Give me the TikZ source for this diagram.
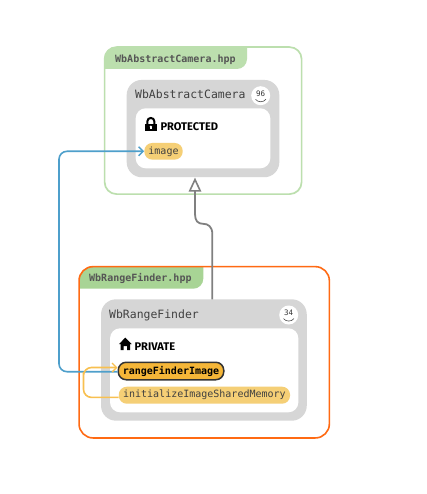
\documentclass[tikz,border=0pt]{standalone}
\usepackage{fontspec}
\setmainfont{Fira Sans}
\setmonofont{DejaVu Sans Mono}
\usetikzlibrary{arrows.meta}
\definecolor{tabpale}{HTML}{BCDFAE}
\definecolor{tabgreen}{HTML}{A8D495}
\definecolor{edgeorange}{HTML}{FF6A13}
\definecolor{classgrey}{HTML}{D6D6D6}
\definecolor{pillpale}{HTML}{F5CF76}
\definecolor{pillstrong}{HTML}{F5B638}
\definecolor{linkblue}{HTML}{4E9FCB}
\definecolor{linkorange}{HTML}{F8C050}
\definecolor{inkgrey}{HTML}{555555}
\tikzset{
  filebox/.style={rectangle,rounded corners=12pt,fill=white,line width=1.7pt,inner sep=0pt},
  classbox/.style={rectangle,rounded corners=15pt,fill=classgrey,inner sep=0pt},
  innerbox/.style={rectangle,rounded corners=10pt,fill=white,inner sep=0pt},
  pill/.style={rectangle,rounded corners=7pt,inner sep=0pt,font=\ttfamily\fontsize{10}{12}\selectfont,text=black!75},
  filelabel/.style={anchor=base west,inner sep=0pt,font=\ttfamily\bfseries\fontsize{10}{12}\selectfont,text=inkgrey},
  classlabel/.style={anchor=base west,inner sep=0pt,font=\ttfamily\fontsize{11.45}{12}\selectfont,text=black!75},
  seclabel/.style={anchor=base west,inner sep=0pt,font=\bfseries\fontsize{11.1}{12}\selectfont},
  badge/.style={circle,fill=white,minimum size=19pt,inner sep=0pt},
  badgetext/.style={inner sep=0pt,font=\ttfamily\fontsize{7.5}{8}\selectfont,text=black!80},
  link/.style={line width=1.6pt,rounded corners=8pt,-{Straight Barb[length=4.5pt,width=9pt,line width=1.4pt]}},
}
\begin{document}
\begin{tikzpicture}[x=1pt,y=-1pt]
\useasboundingbox (0,0) rectangle (426,494);
\fill[white] (0,0) rectangle (426,494);
% upper file
\node[filebox,draw=tabpale,minimum width=197pt,minimum height=147pt] (fileA) at (203.1,120.6) {};
\fill[tabpale] (104.2,59) .. controls (104.2,52.4) and (109.4,47) .. (116,47) -- (247,47) -- (247,59) .. controls (247,64.5) and (242.5,69) .. (237,69) -- (104.2,69) -- cycle;
\node[filelabel] (fileAt) at (115,62.4) {WbAbstractCamera.hpp};
\node[classbox,minimum width=152.6pt,minimum height=97.3pt] (classA) at (203,128.6) {};
\node[innerbox,minimum width=134.6pt,minimum height=60pt] (innerA) at (203,138.3) {};
\node[classlabel] (classAt) at (135,98.6) {WbAbstractCamera};
\node[badge] (badgeA) at (260.7,95.7) {};
\node[badgetext] (badgeAt) at (260.7,93.6) {96};
\draw[black!70,line width=.6pt] (255.5,99.3) .. controls (258,102.6) and (263.4,102.6) .. (265.9,99.3);
% lock
\fill[black] (145,123.6) rectangle (156.7,131);
\draw[black,line width=2pt] (147.3,124) -- (147.3,121.5) .. controls (147.3,116.8) and (154.4,116.8) .. (154.4,121.5) -- (154.4,124);
\fill[white] (150.85,126.7) circle[radius=1.2pt];
\fill[white] (150.2,126.7) rectangle (151.5,129.4);
\node[seclabel] (secA) at (160.3,130.8) {PROTECTED};
\node[pill,fill=pillpale,minimum width=38.4pt,minimum height=16.7pt,rounded corners=8pt] (image) at (163.5,151.3) {image};
% lower file
\fill[tabgreen] (79,280.7) .. controls (79,273) and (85.2,266.7) .. (93,266.7) -- (203.3,266.7) -- (203.3,278.7) .. controls (203.3,284.2) and (198.8,288.7) .. (193.3,288.7) -- (79,288.7) -- cycle;
\node[filebox,fill=none,draw=edgeorange,minimum width=250.3pt,minimum height=171.3pt,rounded corners=14pt,line width=1.6pt] (fileB) at (204.2,352.3) {};
\node[filelabel] (fileBt) at (89,281.4) {WbRangeFinder.hpp};
\node[classbox,minimum width=205.7pt,minimum height=121.4pt] (classB) at (203.9,360) {};
\node[innerbox,minimum width=188.3pt,minimum height=84pt] (innerB) at (204.2,370.3) {};
\node[classlabel] (classBt) at (109,318.2) {WbRangeFinder};
\node[badge] (badgeB) at (288.7,315) {};
\node[badgetext] (badgeBt) at (288.7,312.9) {34};
\draw[black!70,line width=.6pt] (283.5,318.6) .. controls (286,321.9) and (291.4,321.9) .. (293.9,318.6);
% house
\fill[black] (125.3,337.6) -- (131.9,344.2) -- (130.2,344.2) -- (130.2,350.2) -- (127,350.2) -- (127,346) -- (123.6,346) -- (123.6,350.2) -- (120.6,350.2) -- (120.6,344.2) -- (118.9,344.2) -- cycle;
\node[seclabel] (secB) at (134.3,350) {PRIVATE};
% connectors under the strong pill
\coordinate (blueturn) at (59,260);
\node[pill,fill=pillpale,minimum width=171.3pt,minimum height=17pt,rounded corners=8pt] (init) at (204.4,395.2) {initializeImageSharedMemory};
\node[pill,draw=black!80,line width=1.5pt,fill=pillstrong,minimum width=105.5pt,minimum height=17.5pt,rounded corners=8pt,font=\ttfamily\bfseries\fontsize{10}{12}\selectfont,text=black] (rfi) at (171,371) {rangeFinderImage};
\draw[link,linkblue] ([yshift=-0.7pt]rfi.west) -| (blueturn) |- (image.west);
\coordinate (orangeturn) at (83.5,380);
\draw[link,linkorange] ([yshift=-2.2pt]init.west) -| (orangeturn) |- ([yshift=3.5pt]rfi.west);
\coordinate (inhstart) at (212.3,299.3);
\coordinate (inhend) at (195,177.6);
\draw[black!50,line width=1.8pt,-{Triangle[open,length=14pt,width=12.5pt,line width=1.6pt]}] (inhstart) -- (212.3,234) .. controls (212.3,226.5) and (208,223.8) .. (203,223.8) .. controls (198,223.8) and (195,221) .. (195,214) -- (inhend);
\end{tikzpicture}
\end{document}
